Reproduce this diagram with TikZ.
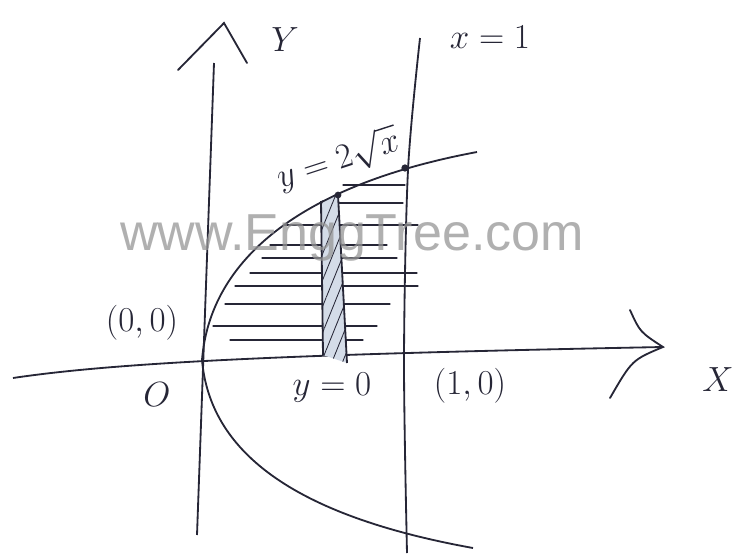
\documentclass[tikz,border=0pt]{standalone}
\usepackage{amsmath}
\usepackage{fontspec}
\usepackage{xcolor}
\definecolor{inkdark}{RGB}{38,38,54}
\definecolor{markgray}{RGB}{150,150,150}
\definecolor{stripblue}{RGB}{212,220,232}
\usepackage{tikz}
\newfontfamily\markfont{Liberation Sans}
\usetikzlibrary{patterns.meta}

\begin{document}
\begin{tikzpicture}[x=0.025cm, y=-0.025cm, line width=1.3pt, draw=inkdark,
  handlabel/.style={font=\fontsize{26}{30}\selectfont, text=inkdark, inner sep=0pt},
  hatchline/.style={line width=0.9pt, line cap=round}]
  \useasboundingbox (0,0) rectangle (743,553);
  \coordinate (xleft) at (13,378);
  \coordinate (xend) at (663,347);
  \coordinate (ybot) at (197,535);
  \coordinate (ytop) at (214,63);
  \coordinate (vertex) at (202,360);

  % axes with hand-drawn open heads
  \draw (xleft) .. controls (120,362) and (300,354) .. (xend);
  \draw (ybot) -- (ytop);
  \draw[line cap=round] (178,70) -- (224,23) -- (247,63);
  \draw[line cap=round] (630,310) .. controls (640,332) .. (xend) .. controls (632,360) .. (610,398);

  % line x = 1
  \draw plot[smooth] coordinates {(420,38) (408,170) (404,360) (407,553)};

  % shaded region
  \foreach \yy/\xa/\xb in {185/343/405, 203/322/403, 225/285/418, 245/270/387, 258/262/397,
                           273/250/417, 286/235/418, 304/225/390, 326/213/377, 340/230/363}
    \draw[hatchline] (\xa,\yy) -- (\xb,\yy);

  % strip
  \fill[stripblue] (321,201) -- (323,355) -- (347,363) -- (338,195) -- cycle;
  \fill[pattern={Lines[angle=68,distance=7pt,line width=0.6pt]}, pattern color=inkdark]
    (321,201) -- (323,355) -- (347,363) -- (338,195) -- cycle;
  \draw (321,201) -- (323,355);
  \draw (338,195) -- (347,363);

  % parabola y^2 = 4x
  \draw (473,548) .. controls (290,515) and (210,450) .. (vertex)
        .. controls (210,260) and (300,185) .. (477,152);
  \fill[inkdark] (405,168) circle (2.6pt);
  \fill[inkdark] (338,195) circle (2.4pt);

  % labels
  \node[handlabel] (ylab) at (285,40) {$Y$};
  \node[handlabel] (xlab) at (718,380) {$X$};
  \node[handlabel] (xone) at (490,37) {$x=1$};
  \node[handlabel, rotate=18] (curve) at (338,160) {$y=2\sqrt{x}$};
  \node[handlabel] (orig) at (142,323) {$(0,0)$};
  \node[handlabel] (oletter) at (157,395) {$O$};
  \node[handlabel] (yzero) at (332,388) {$y=0$};
  \node[handlabel] (onezero) at (470,386) {$(1,0)$};

  % watermark
  \node[font=\markfont\fontsize{37}{40}\selectfont, text=markgray, text opacity=0.75] (mark) at (352,238) {www.EnggTree.com};
\end{tikzpicture}
\end{document}
